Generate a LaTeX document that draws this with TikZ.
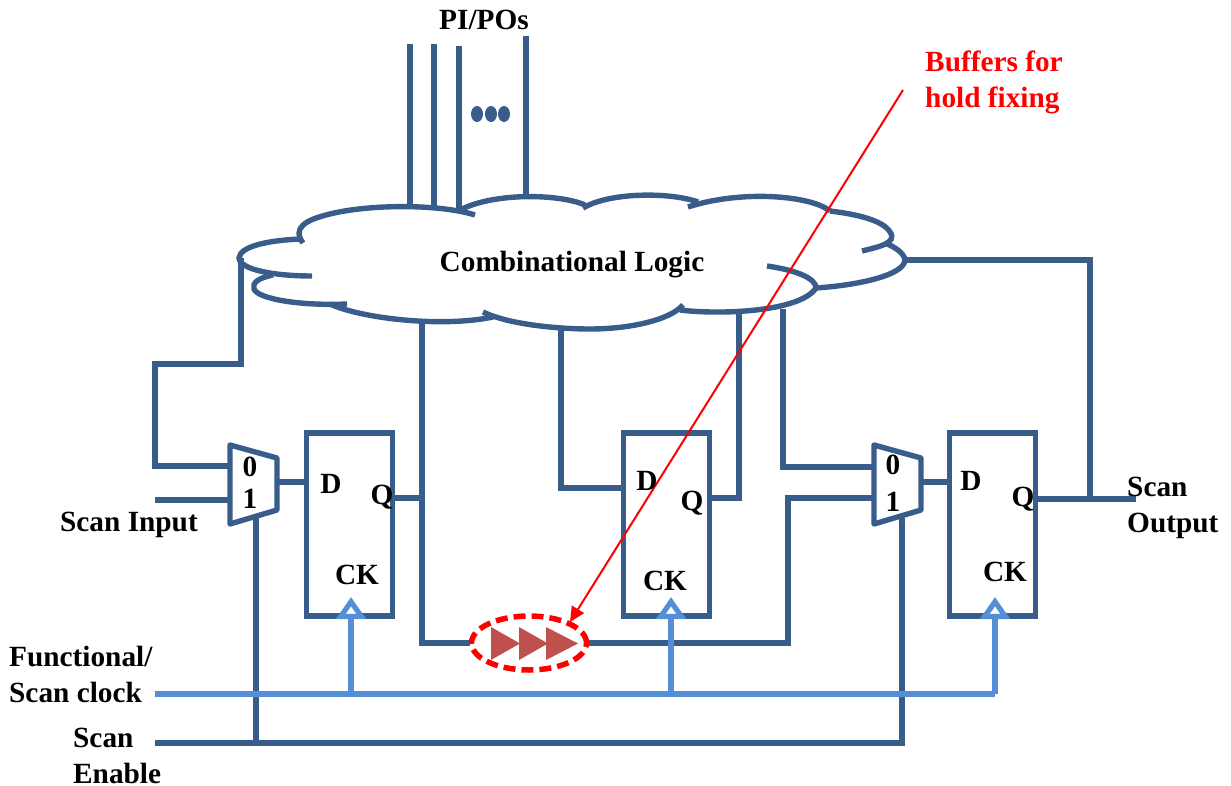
\documentclass[tikz,border=0pt]{standalone}
\usepackage{fontspec}
\setmainfont{Liberation Serif}
\usetikzlibrary{arrows.meta,calc,shapes.geometric}
\definecolor{wire}{HTML}{385D8A}
\definecolor{clk}{HTML}{558ED5}
\definecolor{buf}{HTML}{C0504D}
\tikzset{
  wireline/.style={draw=wire,line width=5.4pt,line join=miter},
  cloudline/.style={draw=wire,line width=5.4pt,line cap=butt},
  clkline/.style={draw=clk,line width=5.2pt},
  clkarrow/.style={draw=clk,line width=5.2pt,-{Triangle[open,length=22pt,width=29pt,line width=5.2pt,fill=white]}},
  ffbox/.style={draw=wire,line width=5.4pt,fill=white,minimum width=86pt,minimum height=183pt,outer sep=0pt,inner sep=0pt},
  lab/.style={font=\fontsize{29.3}{32}\selectfont\bfseries,text=black,inner sep=0pt},
  redlab/.style={font=\fontsize{29.3}{35.5}\selectfont\bfseries,text=red,inner sep=0pt,align=left},
  blab/.style={font=\fontsize{29.3}{35.5}\selectfont\bfseries,text=black,inner sep=0pt,align=left},
  buftri/.style={fill=buf,draw=none},
}
\begin{document}
\begin{tikzpicture}[x=1pt,y=-1pt]
\useasboundingbox (0,0) rectangle (1231,786);
% named points on the cloud and free ends
\coordinate (pa) at (410,207); \coordinate (pa0) at (410,44);
\coordinate (pb) at (434,207); \coordinate (pb0) at (434,44);
\coordinate (pc) at (459,210); \coordinate (pc0) at (459,46);
\coordinate (pd) at (526,198); \coordinate (pd0) at (526,36);
\coordinate (cl) at (241,258);
\coordinate (cq1) at (422,323);
\coordinate (cd2) at (561,329);
\coordinate (cq2) at (739,313);
\coordinate (cm2) at (783,309);
\coordinate (cr) at (905,260);
\coordinate (sin) at (155,500);
\coordinate (sout) at (1136,499);
\coordinate (clk0) at (155,694);
\coordinate (en0) at (155,743);
\coordinate (redfrom) at (903,90);
\coordinate (redto) at (570,622);
% flip-flops
\node[ffbox] (f1) at (349.5,524.5) {};
\node[ffbox] (f2) at (666.5,524.5) {};
\node[ffbox] (f3) at (992.5,524.5) {};
% muxes
\draw[wireline,fill=white,line join=round] (230,445) coordinate (m1tl) -- (277,458) coordinate (m1tr) -- (277,510) coordinate (m1br) -- (230,524) coordinate (m1bl) -- cycle;
\draw[wireline,fill=white,line join=round] (874,445) coordinate (m2tl) -- (921,458) coordinate (m2tr) -- (921,510) coordinate (m2br) -- (874,524) coordinate (m2bl) -- cycle;
% wires
\foreach \a/\b in {pa0/pa,pb0/pb,pc0/pc,pd0/pd} \draw[wireline] (\a) -- (\b);
\draw[wireline] (cl) -- (241,364) -- (155,364) -- (155,466) -- (230,466);
\draw[wireline] (sin) -- (230,500);
\draw[wireline] (277,482) -- (f1.west |- 0,482);
\draw[wireline] (f1.east |- 0,498) -- (422,498);
\draw[wireline] (cq1) -- (422,643) -- (470,643);
\draw[wireline] (588,643) -- (788,643) -- (788,498) -- (874,498);
\draw[wireline] (cd2) -- (561,488) -- (f2.west |- 0,488);
\draw[wireline] (f2.east |- 0,498) -- (739,498) -- (cq2);
\draw[wireline] (cm2) -- (783,467) -- (874,467);
\draw[wireline] (921,482) -- (f3.west |- 0,482);
\draw[wireline] (f3.east |- 0,499) -- (sout);
\draw[wireline] (1090,499) -- (1090,260) -- (cr);
\draw[wireline] (en0) -- (902,743) -- (902,518);
\draw[wireline] (256,743) -- (256,518);
% clock
\draw[clkline] (clk0) -- (995,694);
\draw[clkarrow] (351,694) -- (351,597);
\draw[clkarrow] (671,694) -- (671,597);
\draw[clkarrow] (995,694) -- (995,597);
% cloud
\draw[cloudline] (475,215) .. controls (440,204) and (370,204) .. (330,214) .. controls (305,220) and (292,228) .. (303,243);
\draw[cloudline] (302,239) .. controls (270,240) and (240,246) .. (239,258) .. controls (240,270) and (275,276) .. (312,276);
\draw[cloudline] (273,275) .. controls (258,278) and (252,283) .. (254,289) .. controls (258,299) and (300,306) .. (347,304);
\draw[cloudline] (330,304) .. controls (360,318) and (440,328) .. (493,317);
\draw[cloudline] (483,312) .. controls (510,325) and (560,329) .. (590,329) .. controls (630,329) and (670,320) .. (683,305);
\draw[cloudline] (680,310) .. controls (720,315) and (800,312) .. (816,288) .. controls (816,278) and (795,270) .. (767,266);
\draw[cloudline] (816,288) .. controls (860,285) and (904,275) .. (905,260) .. controls (904,253) and (895,247) .. (885,243);
\draw[cloudline] (862,251) .. controls (878,247) and (898,243) .. (890,232) .. controls (883,220) and (855,214) .. (830,211);
\draw[cloudline] (830,211) .. controls (810,195) and (740,190) .. (688,207);
\draw[cloudline] (698,202) .. controls (670,192) and (610,192) .. (583,208);
\draw[cloudline] (585,205) .. controls (560,194) and (495,192) .. (460,210);
% buffers
\path[buftri] (491,627) -- (520,643.5) -- (491,660) -- cycle;
\path[buftri] (519,627) -- (548,643.5) -- (519,660) -- cycle;
\path[buftri] (546,627) -- (578,643.5) -- (546,660) -- cycle;
\node[draw=red,line width=5.5pt,dash pattern=on 12pt off 6pt,ellipse,minimum width=115pt,minimum height=54pt,inner sep=0pt,outer sep=0pt] (ring) at (529,643) {};
% red pointer
\draw[red,line width=2pt,-{Triangle[length=15pt,width=14pt]}] (redfrom) -- (redto);
% dots
\foreach \x in {477,491,504} \fill[wire] (\x,114) ellipse (6pt and 8pt);
% labels
\node[lab,anchor=center] (tpi) at (484,19.5) {PI/POs};
\node[lab] (tcl) at (572,265) {Combinational Logic};
\node[redlab,anchor=north west] (tbuf) at (925,51) {Buffers for\\hold fixing};
\node[lab] (m10) at (250,467) {0};
\node[lab] (m11) at (250,499) {1};
\node[lab] (m20) at (893,465) {0};
\node[lab] (m21) at (893,502) {1};
\node[lab] (d1) at (331,484) {D};
\node[lab] (q1) at (382,497) {Q};
\node[lab] (ck1) at (357,575) {CK};
\node[lab] (d2) at (647,481) {D};
\node[lab] (q2) at (692,503) {Q};
\node[lab] (ck2) at (665,581) {CK};
\node[lab] (d3) at (971,481) {D};
\node[lab] (q3) at (1023,499) {Q};
\node[lab] (ck3) at (1005,572) {CK};
\node[lab] (tsi) at (129,525) {Scan Input};
\node[blab,anchor=north west] (tso) at (1127,477) {Scan\\Output};
\node[blab,anchor=north west] (tck) at (9,646) {Functional/\\Scan clock};
\node[blab,anchor=north west] (ten) at (73,728) {Scan\\Enable};
\end{tikzpicture}
\end{document}
